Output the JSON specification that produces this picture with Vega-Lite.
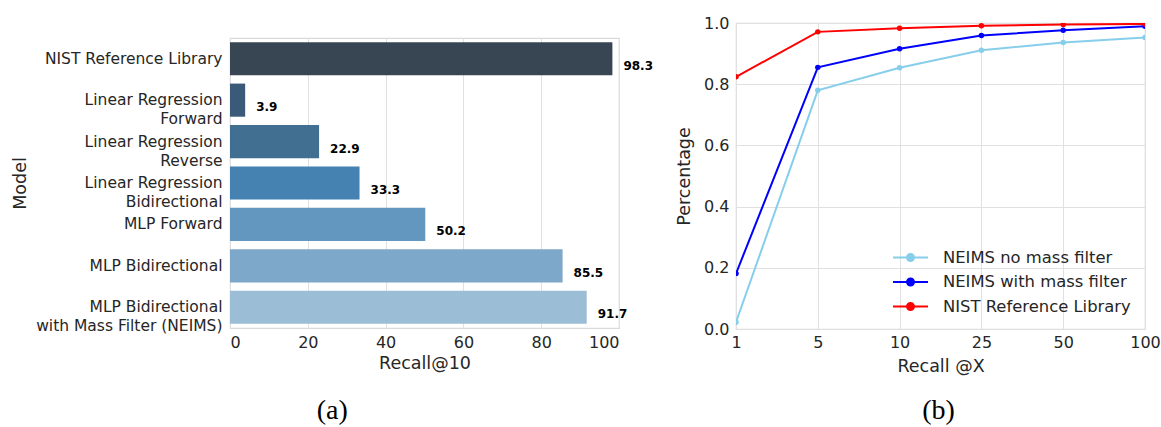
{
  "$schema": "https://vega.github.io/schema/vega-lite/v6.json",
  "padding": {"left": 11, "top": 14, "right": 0, "bottom": 0},
  "background": "white",
  "config": {
    "font": "DejaVu Sans",
    "view": {"stroke": "#d9d9d9", "strokeWidth": 1.2},
    "axis": {
      "labelFont": "DejaVu Sans", "labelFontSize": 16, "labelColor": "#262626",
      "titleFont": "DejaVu Sans", "titleFontSize": 17.5, "titleFontWeight": "normal", "titleColor": "#262626",
      "gridColor": "#e0e0e0", "gridWidth": 1, "domain": false, "ticks": false
    },
    "title": {"font": "Liberation Serif", "fontSize": 28, "fontWeight": "normal", "color": "#000000"}
  },
  "resolve": {"scale": {"color": "independent"}, "legend": {"color": "independent"}},
  "spacing": 20,
  "hconcat": [
    {
      "title": {"text": "(a)", "orient": "bottom", "offset": 25, "anchor": "middle", "frame": "bounds"},
      "spacing": 10,
      "vconcat": [
        {
          "width": 389,
          "height": 1,
          "data": {"values": [{}]},
          "mark": {"type": "point", "opacity": 0},
          "view": {"stroke": null}
        },
        {
          "width": 389,
          "height": 290,
          "data": {"values": [
            {"model": "NIST Reference Library", "recall": 98.3},
            {"model": "Linear Regression\nForward", "recall": 3.9},
            {"model": "Linear Regression\nReverse", "recall": 22.9},
            {"model": "Linear Regression\nBidirectional", "recall": 33.3},
            {"model": "MLP Forward", "recall": 50.2},
            {"model": "MLP Bidirectional", "recall": 85.5},
            {"model": "MLP Bidirectional\nwith Mass Filter (NEIMS)", "recall": 91.7}
          ]},
          "encoding": {
            "y": {
              "field": "model", "type": "nominal", "sort": null,
              "scale": {"paddingInner": 0.2, "paddingOuter": 0.1},
              "axis": {"title": "Model", "labelExpr": "split(datum.label, '\\n')", "labelFontSize": 15.5, "labelLineHeight": 19, "labelPadding": 8, "labelLimit": 400, "grid": false, "titlePadding": 6}
            },
            "x": {
              "field": "recall", "type": "quantitative",
              "scale": {"domain": [0, 100]},
              "axis": {"title": "Recall@10", "values": [0, 20, 40, 60, 80, 100], "labelPadding": 6, "titlePadding": 4, "grid": true}
            }
          },
          "layer": [
            {
              "mark": {"type": "bar"},
              "encoding": {
                "color": {
                  "field": "model", "type": "nominal", "legend": null,
                  "scale": {
                    "domain": ["NIST Reference Library", "Linear Regression\nForward", "Linear Regression\nReverse", "Linear Regression\nBidirectional", "MLP Forward", "MLP Bidirectional", "MLP Bidirectional\nwith Mass Filter (NEIMS)"],
                    "range": ["#384654", "#3b5a77", "#416f92", "#4682b1", "#6397bf", "#7ea8c9", "#9bbdd5"]
                  }
                }
              }
            },
            {
              "mark": {"type": "text", "align": "left", "baseline": "middle", "dx": 11, "dy": 7, "fontWeight": "bold", "fontSize": 12, "color": "#000000", "font": "DejaVu Sans"},
              "encoding": {"text": {"field": "recall", "type": "quantitative", "format": ".1f"}}
            }
          ]
        }
      ]
    },
    {
      "title": {"text": "(b)", "orient": "bottom", "offset": 22, "anchor": "middle", "frame": "group", "dx": -2},
      "width": 409,
      "height": 306,
      "data": {"values": [
        {"k": 1, "series": "NEIMS no mass filter", "pct": 0.022},
        {"k": 5, "series": "NEIMS no mass filter", "pct": 0.78},
        {"k": 10, "series": "NEIMS no mass filter", "pct": 0.854},
        {"k": 25, "series": "NEIMS no mass filter", "pct": 0.911},
        {"k": 50, "series": "NEIMS no mass filter", "pct": 0.936},
        {"k": 100, "series": "NEIMS no mass filter", "pct": 0.953},
        {"k": 1, "series": "NEIMS with mass filter", "pct": 0.181},
        {"k": 5, "series": "NEIMS with mass filter", "pct": 0.855},
        {"k": 10, "series": "NEIMS with mass filter", "pct": 0.916},
        {"k": 25, "series": "NEIMS with mass filter", "pct": 0.959},
        {"k": 50, "series": "NEIMS with mass filter", "pct": 0.976},
        {"k": 100, "series": "NEIMS with mass filter", "pct": 0.989},
        {"k": 1, "series": "NIST Reference Library", "pct": 0.824},
        {"k": 5, "series": "NIST Reference Library", "pct": 0.971},
        {"k": 10, "series": "NIST Reference Library", "pct": 0.983},
        {"k": 25, "series": "NIST Reference Library", "pct": 0.991},
        {"k": 50, "series": "NIST Reference Library", "pct": 0.995},
        {"k": 100, "series": "NIST Reference Library", "pct": 0.997}
      ]},
      "encoding": {
        "x": {
          "field": "k", "type": "ordinal", "sort": "ascending",
          "scale": {"type": "point", "padding": 0},
          "axis": {"title": "Recall @X", "labelAngle": 0, "grid": true, "labelPadding": 5, "titlePadding": 7}
        },
        "y": {
          "field": "pct", "type": "quantitative",
          "scale": {"domain": [0, 1]},
          "axis": {"title": "Percentage", "values": [0, 0.2, 0.4, 0.6, 0.8, 1.0], "format": ".1f", "labelPadding": 7, "titlePadding": 10, "grid": true}
        },
        "color": {
          "field": "series", "type": "nominal",
          "scale": {"domain": ["NEIMS no mass filter", "NEIMS with mass filter", "NIST Reference Library"], "range": ["#87ceeb", "#0000ff", "#ff0000"]},
          "legend": {
            "title": null, "orient": "bottom-right", "offset": 14, "padding": 0,
            "labelFontSize": 16.4, "labelColor": "#262626", "labelFont": "DejaVu Sans", "labelOffset": 19, "labelLimit": 400,
            "symbolType": "M-1.4,0H1.4M0.28,0A0.28,0.28,0,1,1,-0.28,0A0.28,0.28,0,1,1,0.28,0Z",
            "symbolSize": 625, "symbolStrokeWidth": 2, "rowPadding": 2.5,
            "encode": {"symbols": {"update": {"fill": {"scale": "color", "field": "value"}, "stroke": {"scale": "color", "field": "value"}, "opacity": {"value": 1}}}}
          }
        }
      },
      "layer": [
        {"mark": {"type": "line", "strokeWidth": 2, "clip": true}},
        {"mark": {"type": "point", "filled": true, "size": 30, "opacity": 1, "clip": true}}
      ]
    }
  ]
}
